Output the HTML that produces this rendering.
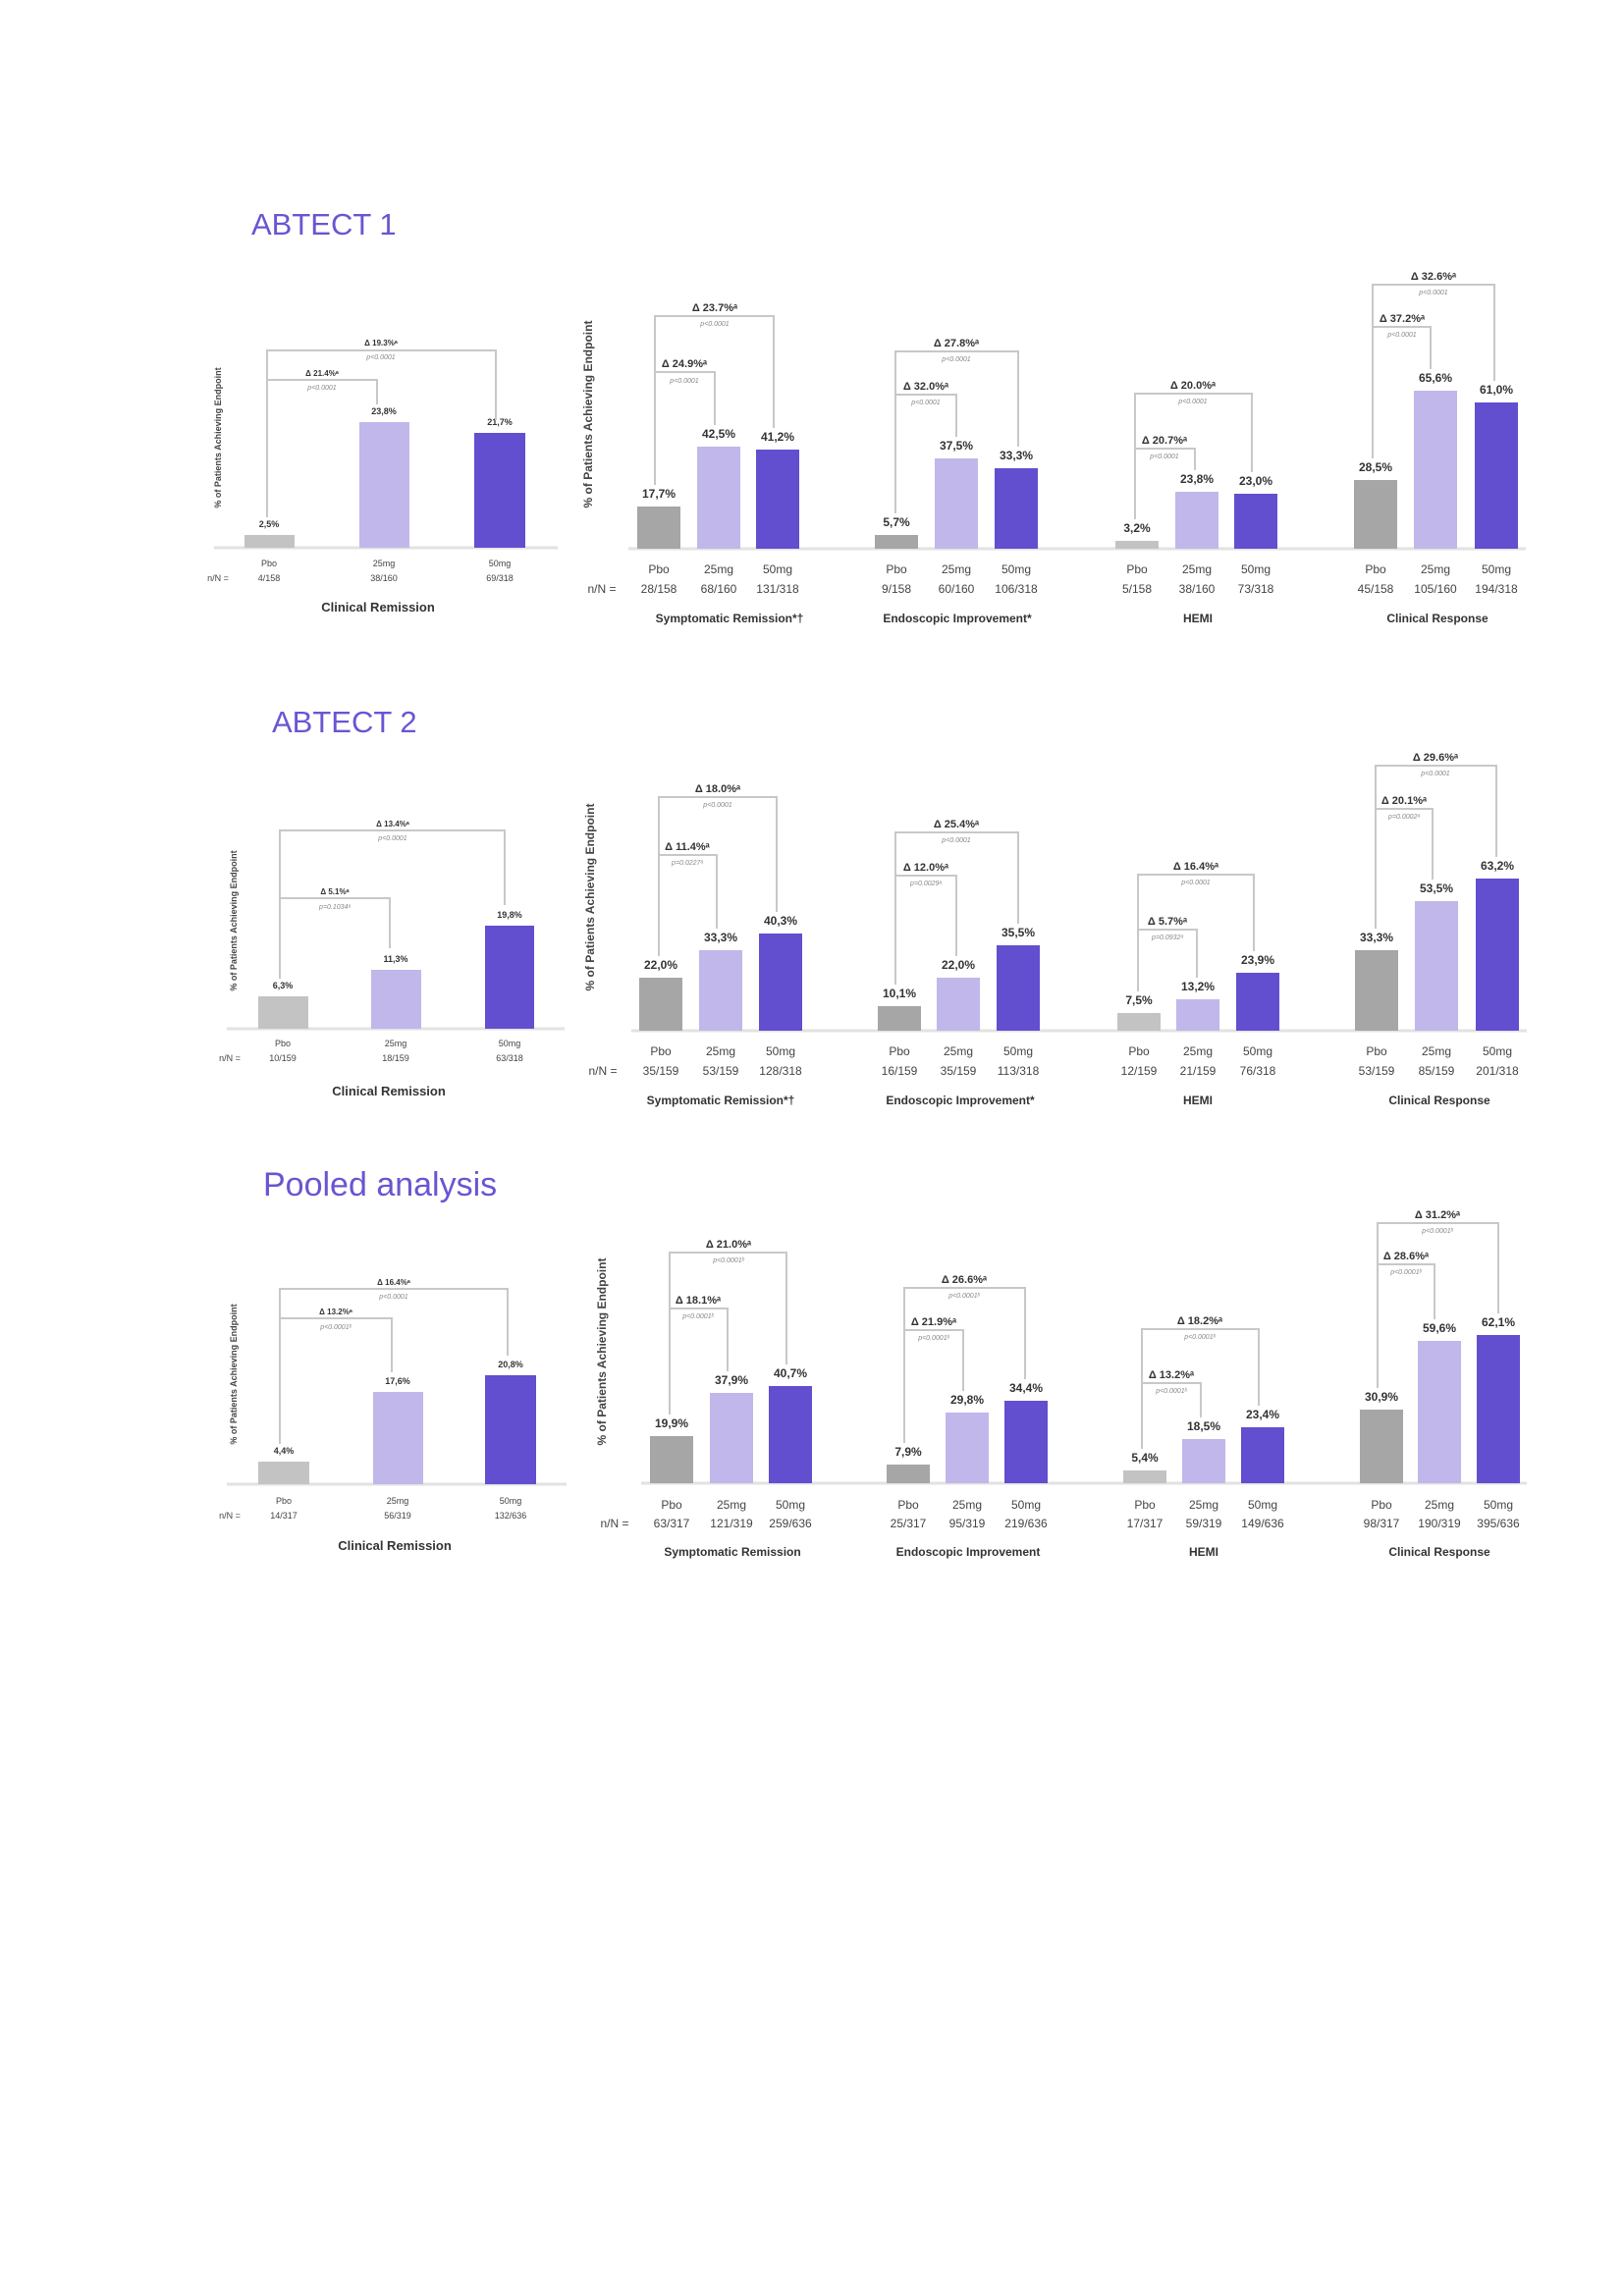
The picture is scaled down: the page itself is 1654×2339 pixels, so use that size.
<!DOCTYPE html>
<html><head><meta charset="utf-8"><style>
html,body{margin:0;padding:0;background:#fff}
svg{display:block}
text{font-family:"Liberation Sans Narrow","Liberation Sans",sans-serif;fill:#333}
.h{font-family:"Liberation Sans",sans-serif;fill:#6a55d2;font-size:31px}
.v{font-size:12px;font-weight:bold;text-anchor:middle}
.vs{font-size:9px;font-weight:bold;text-anchor:middle}
.t{font-size:12px;text-anchor:middle;fill:#444}
.ts{font-size:9px;text-anchor:middle;fill:#444}
.c{font-family:"Liberation Sans",sans-serif;font-size:13px;font-weight:bold;text-anchor:middle;fill:#333}
.cs{font-family:"Liberation Sans",sans-serif;font-size:12px;font-weight:bold;text-anchor:middle;fill:#333}
.d{font-family:"Liberation Sans",sans-serif;font-size:11px;font-weight:bold;text-anchor:middle}
.ds{font-family:"Liberation Sans",sans-serif;font-size:8px;font-weight:bold;text-anchor:middle}
.p{font-family:"Liberation Sans",sans-serif;font-size:7px;font-style:italic;text-anchor:middle;fill:#888}
.y{font-family:"Liberation Sans",sans-serif;font-size:12px;font-weight:bold;text-anchor:middle;fill:#444}
.ys{font-family:"Liberation Sans",sans-serif;font-size:9px;font-weight:bold;text-anchor:middle;fill:#444}
.g{fill:#a6a6a6}.gl{fill:#c3c3c3}.l{fill:#c1b7ea}.k{fill:#614fcf}
.b{stroke:#c8c8c8;stroke-width:2;fill:none}
.ax{stroke:#e2e2e2;stroke-width:3}
</style></head><body>
<svg width="1654" height="2339" viewBox="0 0 1654 2339" xmlns="http://www.w3.org/2000/svg">
<rect width="1654" height="2339" fill="#fff"/>

<!-- ================= ABTECT 1 ================= -->
<text class="h" x="256" y="239">ABTECT 1</text>

<!-- left -->
<text class="ys" transform="translate(225,446) rotate(-90)">% of Patients Achieving Endpoint</text>
<line class="ax" x1="218" y1="558" x2="568" y2="558"/>
<rect class="gl" x="249" y="545" width="51" height="13"/>
<rect class="l" x="366" y="430" width="51" height="128"/>
<rect class="k" x="483" y="441" width="52" height="117"/>
<text class="vs" x="274" y="537">2,5%</text>
<text class="vs" x="391" y="422">23,8%</text>
<text class="vs" x="509" y="433">21,7%</text>
<path class="b" d="M272 527 V357 H505 V428"/>
<path class="b" d="M272 387 H384 V412"/>
<text class="ds" x="388" y="352">Δ 19.3%ᵃ</text><text class="p" x="388" y="366">p&lt;0.0001</text>
<text class="ds" x="328" y="383">Δ 21.4%ᵃ</text><text class="p" x="328" y="397">p&lt;0.0001</text>
<text class="ts" x="274" y="577">Pbo</text><text class="ts" x="391" y="577">25mg</text><text class="ts" x="509" y="577">50mg</text>
<text class="ts" x="222" y="592">n/N =</text>
<text class="ts" x="274" y="592">4/158</text><text class="ts" x="391" y="592">38/160</text><text class="ts" x="509" y="592">69/318</text>
<text class="c" x="385" y="623">Clinical Remission</text>

<!-- right -->
<text class="y" transform="translate(603,422) rotate(-90)">% of Patients Achieving Endpoint</text>
<line class="ax" x1="640" y1="559" x2="1554" y2="559"/>
<rect class="g" x="649" y="516" width="44" height="43"/><rect class="l" x="710" y="455" width="44" height="104"/><rect class="k" x="770" y="458" width="44" height="101"/>
<rect class="g" x="891" y="545" width="44" height="14"/><rect class="l" x="952" y="467" width="44" height="92"/><rect class="k" x="1013" y="477" width="44" height="82"/>
<rect class="gl" x="1136" y="551" width="44" height="8"/><rect class="l" x="1197" y="501" width="44" height="58"/><rect class="k" x="1257" y="503" width="44" height="56"/>
<rect class="g" x="1379" y="489" width="44" height="70"/><rect class="l" x="1440" y="398" width="44" height="161"/><rect class="k" x="1502" y="410" width="44" height="149"/>
<text class="v" x="671" y="507">17,7%</text><text class="v" x="732" y="446">42,5%</text><text class="v" x="792" y="449">41,2%</text>
<text class="v" x="913" y="536">5,7%</text><text class="v" x="974" y="458">37,5%</text><text class="v" x="1035" y="468">33,3%</text>
<text class="v" x="1158" y="542">3,2%</text><text class="v" x="1219" y="492">23,8%</text><text class="v" x="1279" y="494">23,0%</text>
<text class="v" x="1401" y="480">28,5%</text><text class="v" x="1462" y="389">65,6%</text><text class="v" x="1524" y="401">61,0%</text>
<path class="b" d="M667 494 V322 H788 V436"/><path class="b" d="M667 379 H728 V433"/>
<text class="d" x="728" y="317">Δ 23.7%ᵃ</text><text class="p" x="728" y="332">p&lt;0.0001</text>
<text class="d" x="697" y="374">Δ 24.9%ᵃ</text><text class="p" x="697" y="390">p&lt;0.0001</text>
<path class="b" d="M912 523 V358 H1037 V455"/><path class="b" d="M912 402 H974 V445"/>
<text class="d" x="974" y="353">Δ 27.8%ᵃ</text><text class="p" x="974" y="368">p&lt;0.0001</text>
<text class="d" x="943" y="397">Δ 32.0%ᵃ</text><text class="p" x="943" y="412">p&lt;0.0001</text>
<path class="b" d="M1156 529 V401 H1275 V481"/><path class="b" d="M1156 457 H1217 V479"/>
<text class="d" x="1215" y="396">Δ 20.0%ᵃ</text><text class="p" x="1215" y="411">p&lt;0.0001</text>
<text class="d" x="1186" y="452">Δ 20.7%ᵃ</text><text class="p" x="1186" y="467">p&lt;0.0001</text>
<path class="b" d="M1398 467 V290 H1522 V388"/><path class="b" d="M1398 333 H1457 V376"/>
<text class="d" x="1460" y="285">Δ 32.6%ᵃ</text><text class="p" x="1460" y="300">p&lt;0.0001</text>
<text class="d" x="1428" y="328">Δ 37.2%ᵃ</text><text class="p" x="1428" y="343">p&lt;0.0001</text>
<text class="t" x="613" y="604">n/N =</text>
<text class="t" x="671" y="584">Pbo</text><text class="t" x="732" y="584">25mg</text><text class="t" x="792" y="584">50mg</text>
<text class="t" x="671" y="604">28/158</text><text class="t" x="732" y="604">68/160</text><text class="t" x="792" y="604">131/318</text>
<text class="t" x="913" y="584">Pbo</text><text class="t" x="974" y="584">25mg</text><text class="t" x="1035" y="584">50mg</text>
<text class="t" x="913" y="604">9/158</text><text class="t" x="974" y="604">60/160</text><text class="t" x="1035" y="604">106/318</text>
<text class="t" x="1158" y="584">Pbo</text><text class="t" x="1219" y="584">25mg</text><text class="t" x="1279" y="584">50mg</text>
<text class="t" x="1158" y="604">5/158</text><text class="t" x="1219" y="604">38/160</text><text class="t" x="1279" y="604">73/318</text>
<text class="t" x="1401" y="584">Pbo</text><text class="t" x="1462" y="584">25mg</text><text class="t" x="1524" y="584">50mg</text>
<text class="t" x="1401" y="604">45/158</text><text class="t" x="1462" y="604">105/160</text><text class="t" x="1524" y="604">194/318</text>
<text class="cs" x="743" y="634">Symptomatic Remission*†</text>
<text class="cs" x="975" y="634">Endoscopic Improvement*</text>
<text class="cs" x="1220" y="634">HEMI</text>
<text class="cs" x="1464" y="634">Clinical Response</text>

<!-- ================= ABTECT 2 ================= -->
<text class="h" x="277" y="746">ABTECT 2</text>

<text class="ys" transform="translate(241,938) rotate(-90)">% of Patients Achieving Endpoint</text>
<line class="ax" x1="231" y1="1048" x2="575" y2="1048"/>
<rect class="gl" x="263" y="1015" width="51" height="33"/>
<rect class="l" x="378" y="988" width="51" height="60"/>
<rect class="k" x="494" y="943" width="50" height="105"/>
<text class="vs" x="288" y="1007">6,3%</text><text class="vs" x="403" y="980">11,3%</text><text class="vs" x="519" y="935">19,8%</text>
<path class="b" d="M285 997 V846 H514 V922"/><path class="b" d="M285 915 H397 V966"/>
<text class="ds" x="400" y="842">Δ 13.4%ᵃ</text><text class="p" x="400" y="856">p&lt;0.0001</text>
<text class="ds" x="341" y="911">Δ 5.1%ᵃ</text><text class="p" x="341" y="926">p=0.1034ᵃ</text>
<text class="ts" x="288" y="1066">Pbo</text><text class="ts" x="403" y="1066">25mg</text><text class="ts" x="519" y="1066">50mg</text>
<text class="ts" x="234" y="1081">n/N =</text>
<text class="ts" x="288" y="1081">10/159</text><text class="ts" x="403" y="1081">18/159</text><text class="ts" x="519" y="1081">63/318</text>
<text class="c" x="396" y="1116">Clinical Remission</text>

<text class="y" transform="translate(605,914) rotate(-90)">% of Patients Achieving Endpoint</text>
<line class="ax" x1="643" y1="1050" x2="1555" y2="1050"/>
<rect class="g" x="651" y="996" width="44" height="54"/><rect class="l" x="712" y="968" width="44" height="82"/><rect class="k" x="773" y="951" width="44" height="99"/>
<rect class="g" x="894" y="1025" width="44" height="25"/><rect class="l" x="954" y="996" width="44" height="54"/><rect class="k" x="1015" y="963" width="44" height="87"/>
<rect class="gl" x="1138" y="1032" width="44" height="18"/><rect class="l" x="1198" y="1018" width="44" height="32"/><rect class="k" x="1259" y="991" width="44" height="59"/>
<rect class="g" x="1380" y="968" width="44" height="82"/><rect class="l" x="1441" y="918" width="44" height="132"/><rect class="k" x="1503" y="895" width="44" height="155"/>
<text class="v" x="673" y="987">22,0%</text><text class="v" x="734" y="959">33,3%</text><text class="v" x="795" y="942">40,3%</text>
<text class="v" x="916" y="1016">10,1%</text><text class="v" x="976" y="987">22,0%</text><text class="v" x="1037" y="954">35,5%</text>
<text class="v" x="1160" y="1023">7,5%</text><text class="v" x="1220" y="1009">13,2%</text><text class="v" x="1281" y="982">23,9%</text>
<text class="v" x="1402" y="959">33,3%</text><text class="v" x="1463" y="909">53,5%</text><text class="v" x="1525" y="886">63,2%</text>
<path class="b" d="M671 974 V812 H791 V929"/><path class="b" d="M671 871 H730 V946"/>
<text class="d" x="731" y="807">Δ 18.0%ᵃ</text><text class="p" x="731" y="822">p&lt;0.0001</text>
<text class="d" x="700" y="866">Δ 11.4%ᵃ</text><text class="p" x="700" y="881">p=0.0227ᵃ</text>
<path class="b" d="M912 1003 V848 H1037 V941"/><path class="b" d="M912 892 H974 V974"/>
<text class="d" x="974" y="843">Δ 25.4%ᵃ</text><text class="p" x="974" y="858">p&lt;0.0001</text>
<text class="d" x="943" y="887">Δ 12.0%ᵃ</text><text class="p" x="943" y="902">p=0.0029ᵃ</text>
<path class="b" d="M1159 1010 V891 H1277 V969"/><path class="b" d="M1159 947 H1219 V996"/>
<text class="d" x="1218" y="886">Δ 16.4%ᵃ</text><text class="p" x="1218" y="901">p&lt;0.0001</text>
<text class="d" x="1189" y="942">Δ 5.7%ᵃ</text><text class="p" x="1189" y="957">p=0.0932ᵃ</text>
<path class="b" d="M1401 946 V780 H1524 V873"/><path class="b" d="M1401 824 H1459 V896"/>
<text class="d" x="1462" y="775">Δ 29.6%ᵃ</text><text class="p" x="1462" y="790">p&lt;0.0001</text>
<text class="d" x="1430" y="819">Δ 20.1%ᵃ</text><text class="p" x="1430" y="834">p=0.0002ᵃ</text>
<text class="t" x="614" y="1095">n/N =</text>
<text class="t" x="673" y="1075">Pbo</text><text class="t" x="734" y="1075">25mg</text><text class="t" x="795" y="1075">50mg</text>
<text class="t" x="673" y="1095">35/159</text><text class="t" x="734" y="1095">53/159</text><text class="t" x="795" y="1095">128/318</text>
<text class="t" x="916" y="1075">Pbo</text><text class="t" x="976" y="1075">25mg</text><text class="t" x="1037" y="1075">50mg</text>
<text class="t" x="916" y="1095">16/159</text><text class="t" x="976" y="1095">35/159</text><text class="t" x="1037" y="1095">113/318</text>
<text class="t" x="1160" y="1075">Pbo</text><text class="t" x="1220" y="1075">25mg</text><text class="t" x="1281" y="1075">50mg</text>
<text class="t" x="1160" y="1095">12/159</text><text class="t" x="1220" y="1095">21/159</text><text class="t" x="1281" y="1095">76/318</text>
<text class="t" x="1402" y="1075">Pbo</text><text class="t" x="1463" y="1075">25mg</text><text class="t" x="1525" y="1075">50mg</text>
<text class="t" x="1402" y="1095">53/159</text><text class="t" x="1463" y="1095">85/159</text><text class="t" x="1525" y="1095">201/318</text>
<text class="cs" x="734" y="1125">Symptomatic Remission*†</text>
<text class="cs" x="978" y="1125">Endoscopic Improvement*</text>
<text class="cs" x="1220" y="1125">HEMI</text>
<text class="cs" x="1466" y="1125">Clinical Response</text>

<!-- ================= Pooled ================= -->
<text class="h" x="268" y="1218" style="font-size:34px">Pooled analysis</text>

<text class="ys" transform="translate(241,1400) rotate(-90)">% of Patients Achieving Endpoint</text>
<line class="ax" x1="231" y1="1512" x2="577" y2="1512"/>
<rect class="gl" x="263" y="1489" width="52" height="23"/>
<rect class="l" x="380" y="1418" width="51" height="94"/>
<rect class="k" x="494" y="1401" width="52" height="111"/>
<text class="vs" x="289" y="1481">4,4%</text><text class="vs" x="405" y="1410">17,6%</text><text class="vs" x="520" y="1393">20,8%</text>
<path class="b" d="M285 1471 V1313 H517 V1381"/><path class="b" d="M285 1343 H399 V1398"/>
<text class="ds" x="401" y="1309">Δ 16.4%ᵃ</text><text class="p" x="401" y="1323">p&lt;0.0001</text>
<text class="ds" x="342" y="1339">Δ 13.2%ᵃ</text><text class="p" x="342" y="1354">p&lt;0.0001ᵇ</text>
<text class="ts" x="289" y="1532">Pbo</text><text class="ts" x="405" y="1532">25mg</text><text class="ts" x="520" y="1532">50mg</text>
<text class="ts" x="234" y="1547">n/N =</text>
<text class="ts" x="289" y="1547">14/317</text><text class="ts" x="405" y="1547">56/319</text><text class="ts" x="520" y="1547">132/636</text>
<text class="c" x="402" y="1579">Clinical Remission</text>

<text class="y" transform="translate(617,1377) rotate(-90)">% of Patients Achieving Endpoint</text>
<line class="ax" x1="653" y1="1511" x2="1555" y2="1511"/>
<rect class="g" x="662" y="1463" width="44" height="48"/><rect class="l" x="723" y="1419" width="44" height="92"/><rect class="k" x="783" y="1412" width="44" height="99"/>
<rect class="g" x="903" y="1492" width="44" height="19"/><rect class="l" x="963" y="1439" width="44" height="72"/><rect class="k" x="1023" y="1427" width="44" height="84"/>
<rect class="gl" x="1144" y="1498" width="44" height="13"/><rect class="l" x="1204" y="1466" width="44" height="45"/><rect class="k" x="1264" y="1454" width="44" height="57"/>
<rect class="g" x="1385" y="1436" width="44" height="75"/><rect class="l" x="1444" y="1366" width="44" height="145"/><rect class="k" x="1504" y="1360" width="44" height="151"/>
<text class="v" x="684" y="1454">19,9%</text><text class="v" x="745" y="1410">37,9%</text><text class="v" x="805" y="1403">40,7%</text>
<text class="v" x="925" y="1483">7,9%</text><text class="v" x="985" y="1430">29,8%</text><text class="v" x="1045" y="1418">34,4%</text>
<text class="v" x="1166" y="1489">5,4%</text><text class="v" x="1226" y="1457">18,5%</text><text class="v" x="1286" y="1445">23,4%</text>
<text class="v" x="1407" y="1427">30,9%</text><text class="v" x="1466" y="1357">59,6%</text><text class="v" x="1526" y="1351">62,1%</text>
<path class="b" d="M682 1441 V1276 H801 V1390"/><path class="b" d="M682 1333 H741 V1397"/>
<text class="d" x="742" y="1271">Δ 21.0%ᵃ</text><text class="p" x="742" y="1286">p&lt;0.0001ᵇ</text>
<text class="d" x="711" y="1328">Δ 18.1%ᵃ</text><text class="p" x="711" y="1343">p&lt;0.0001ᵇ</text>
<path class="b" d="M921 1470 V1312 H1044 V1405"/><path class="b" d="M921 1355 H981 V1417"/>
<text class="d" x="982" y="1307">Δ 26.6%ᵃ</text><text class="p" x="982" y="1322">p&lt;0.0001ᵇ</text>
<text class="d" x="951" y="1350">Δ 21.9%ᵃ</text><text class="p" x="951" y="1365">p&lt;0.0001ᵇ</text>
<path class="b" d="M1163 1476 V1354 H1282 V1432"/><path class="b" d="M1163 1409 H1223 V1444"/>
<text class="d" x="1222" y="1349">Δ 18.2%ᵃ</text><text class="p" x="1222" y="1364">p&lt;0.0001ᵇ</text>
<text class="d" x="1193" y="1404">Δ 13.2%ᵃ</text><text class="p" x="1193" y="1419">p&lt;0.0001ᵇ</text>
<path class="b" d="M1403 1414 V1246 H1526 V1338"/><path class="b" d="M1403 1288 H1461 V1344"/>
<text class="d" x="1464" y="1241">Δ 31.2%ᵃ</text><text class="p" x="1464" y="1256">p&lt;0.0001ᵇ</text>
<text class="d" x="1432" y="1283">Δ 28.6%ᵃ</text><text class="p" x="1432" y="1298">p&lt;0.0001ᵇ</text>
<text class="t" x="626" y="1556">n/N =</text>
<text class="t" x="684" y="1537">Pbo</text><text class="t" x="745" y="1537">25mg</text><text class="t" x="805" y="1537">50mg</text>
<text class="t" x="684" y="1556">63/317</text><text class="t" x="745" y="1556">121/319</text><text class="t" x="805" y="1556">259/636</text>
<text class="t" x="925" y="1537">Pbo</text><text class="t" x="985" y="1537">25mg</text><text class="t" x="1045" y="1537">50mg</text>
<text class="t" x="925" y="1556">25/317</text><text class="t" x="985" y="1556">95/319</text><text class="t" x="1045" y="1556">219/636</text>
<text class="t" x="1166" y="1537">Pbo</text><text class="t" x="1226" y="1537">25mg</text><text class="t" x="1286" y="1537">50mg</text>
<text class="t" x="1166" y="1556">17/317</text><text class="t" x="1226" y="1556">59/319</text><text class="t" x="1286" y="1556">149/636</text>
<text class="t" x="1407" y="1537">Pbo</text><text class="t" x="1466" y="1537">25mg</text><text class="t" x="1526" y="1537">50mg</text>
<text class="t" x="1407" y="1556">98/317</text><text class="t" x="1466" y="1556">190/319</text><text class="t" x="1526" y="1556">395/636</text>
<text class="cs" x="746" y="1585">Symptomatic Remission</text>
<text class="cs" x="986" y="1585">Endoscopic Improvement</text>
<text class="cs" x="1226" y="1585">HEMI</text>
<text class="cs" x="1466" y="1585">Clinical Response</text>
</svg>
</body></html>
